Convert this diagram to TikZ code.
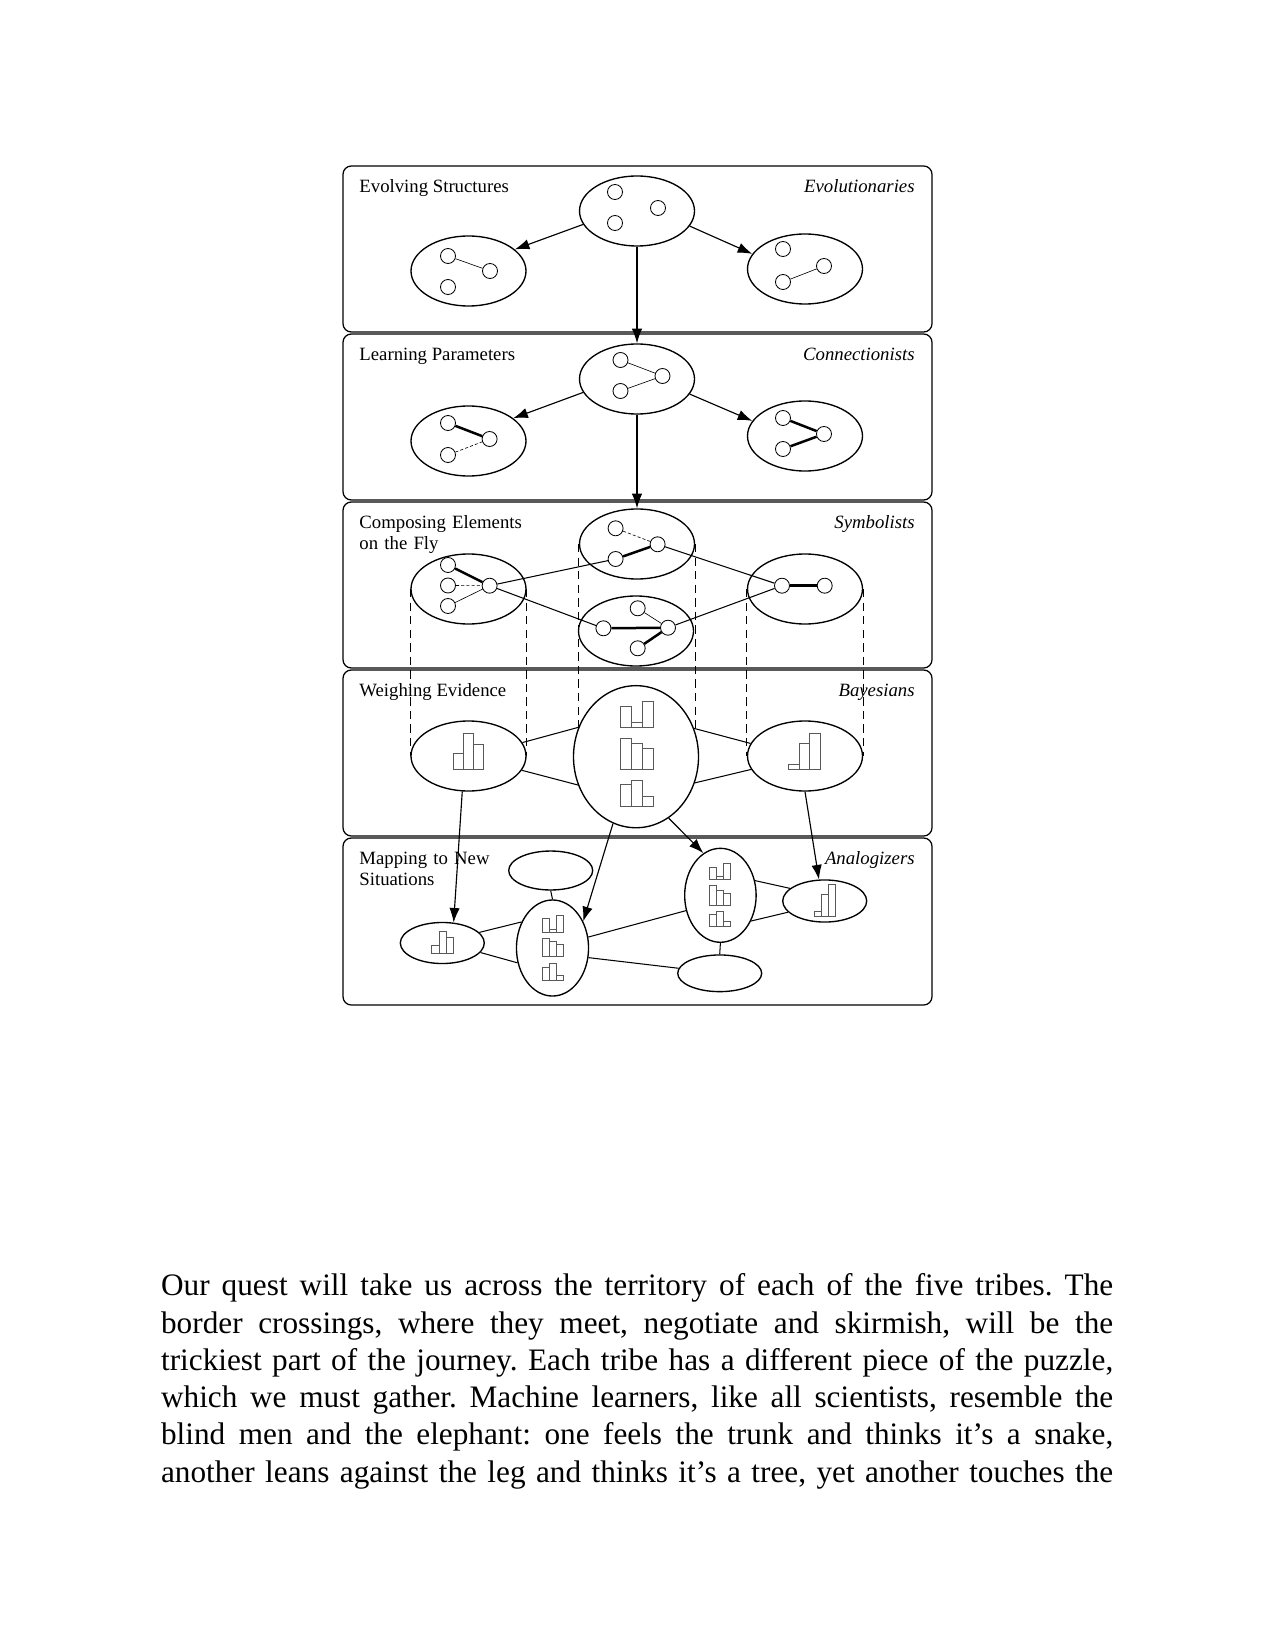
\documentclass[tikz,border=0pt]{standalone}
\usepackage{fontspec}
\setmainfont{Liberation Serif}
\usetikzlibrary{shapes.geometric,arrows.meta,calc}
\newcommand{\histo}[6]{%
  \draw[bar] (#1,#2) rectangle ++(#3,-#4);
  \draw[bar] ({#1+#3},#2) rectangle ++(#3,-#5);
  \draw[bar] ({#1+2*#3},#2) rectangle ++(#3,-#6);}
\newcommand{\fullline}[1]{\makebox[457pt][s]{#1}}
\begin{document}
\begin{tikzpicture}[x=0.48pt,y=-0.48pt,
  band/.style={draw, line width=0.6pt, rounded corners=4pt},
  oval/.style={draw, ellipse, line width=0.65pt, inner sep=0pt, minimum width=55.2pt, minimum height=33.6pt},
  dot/.style={draw, circle, line width=0.4pt, inner sep=0pt, minimum size=7.2pt},
  arr/.style={-{Latex[length=7pt,width=5pt]}, line width=0.55pt},
  link/.style={line width=0.5pt},
  strong/.style={line width=1.2pt},
  weak/.style={line width=0.3pt},
  dashy/.style={line width=0.3pt, dash pattern=on 1.5pt off 1pt},
  tangent/.style={line width=0.4pt, dash pattern=on 4pt off 2.5pt},
  bar/.style={line width=0.35pt, draw=black!65},
  lab/.style={font=\fontsize{9}{10.1}\selectfont, inner sep=0pt},
  tribe/.style={font=\fontsize{9}{10.1}\selectfont\itshape, inner sep=0pt, anchor=base east}]
\fill[white] (0,0) rectangle (1275,1650);
\useasboundingbox (0,0) rectangle (1275,1650);

% bands
\draw[band] (343,166) rectangle (932,332);
\draw[band] (343,334) rectangle (932,500);
\draw[band] (343,502) rectangle (932,668);
\draw[band] (343,670) rectangle (932,836);
\draw[band] (343,838) rectangle (932,1005);

% labels
\node[lab, anchor=base west] (t1) at (359,192.3) {Evolving Structures};
\node[tribe] (n1) at (915,192.3) {Evolutionaries};
\node[lab, anchor=base west] (t2) at (359,360.3) {Learning Parameters};
\node[tribe] (n2) at (915,360.3) {Connectionists};
\node[lab, anchor=base west, text width=120pt, align=left] (t3) at (359,528.3) {Composing Elements\\on the Fly};
\node[tribe] (n3) at (915,528.3) {Symbolists};
\node[lab, anchor=base west] (t4) at (359,696.3) {Weighing Evidence};
\node[tribe] (n4) at (915,696.3) {Bayesians};
\node[lab, anchor=base west, text width=120pt, align=left] (t5) at (359,864.3) {Mapping to New\\Situations};
\node[tribe] (n5) at (915,864.3) {Analogizers};

% ---- band 1
\node[oval] (e1) at (637,211) {};
\node[oval] (l1) at (468.5,271) {};
\node[oval] (r1) at (805,269) {};
\node[dot] (e1a) at (615,192) {};
\node[dot] (e1b) at (658,208) {};
\node[dot] (e1c) at (615,223) {};
\node[dot] (l1a) at (448,256) {};
\node[dot] (l1b) at (490,271) {};
\node[dot] (l1c) at (448,287) {};
\node[dot] (r1a) at (783,249) {};
\node[dot] (r1b) at (824,266) {};
\node[dot] (r1c) at (783,282) {};
\draw[weak] (l1a) -- (l1b);
\draw[weak] (r1c) -- (r1b);
\draw[arr] (e1.194) -- (l1.25);
\draw[arr] (e1.-16) -- (r1.164);

% ---- band 2
\node[oval] (e2) at (637,379) {};
\node[oval] (l2) at (468.5,441) {};
\node[oval] (r2) at (805,436) {};
\node[dot] (e2a) at (620.5,360) {};
\node[dot] (e2b) at (662.5,376) {};
\node[dot] (e2c) at (620.5,391) {};
\node[dot] (l2a) at (448,423) {};
\node[dot] (l2b) at (489.6,439) {};
\node[dot] (l2c) at (448,455) {};
\node[dot] (r2a) at (783,418) {};
\node[dot] (r2b) at (824,434) {};
\node[dot] (r2c) at (783,449) {};
\draw[weak] (e2a) -- (e2b);
\draw[weak] (e2c) -- (e2b);
\draw[strong] (l2a) -- (l2b);
\draw[dashy] (l2c) -- (l2b);
\draw[strong] (r2a) -- (r2b);
\draw[strong] (r2c) -- (r2b);
\draw[arr] (e1.south) -- (e2.north);
\draw[arr] (e2.194) -- (l2.27);
\draw[arr] (e2.-16) -- (r2.164);

% ---- band 3
\node[oval] (e3) at (637,544) {};
\node[oval] (f3) at (636,631) {};
\node[oval] (l3) at (468.5,589) {};
\node[oval] (r3) at (805,589) {};
\node[dot] (e3a) at (615.6,528.3) {};
\node[dot] (e3b) at (657.6,544.3) {};
\node[dot] (e3c) at (615.6,559) {};
\node[dot] (f3a) at (637.7,608.3) {};
\node[dot] (f3b) at (668,627.7) {};
\node[dot] (f3c) at (603.4,628.3) {};
\node[dot] (f3d) at (637.7,648.3) {};
\node[dot] (l3a) at (448,565) {};
\node[dot] (l3b) at (448,585.5) {};
\node[dot] (l3c) at (448,606) {};
\node[dot] (l3h) at (489.6,585.7) {};
\node[dot] (r3a) at (782,585.7) {};
\node[dot] (r3b) at (824.7,585.7) {};
\draw[dashy] (e3a) -- (e3b);
\draw[strong] (e3c) -- (e3b);
\draw[weak] (f3a) -- (f3b);
\draw[strong] (f3c) -- (f3b);
\draw[strong] (f3d) -- (f3b);
\draw[strong] (l3a) -- (l3h);
\draw[dashy] (l3b) -- (l3h);
\draw[weak] (l3c) -- (l3h);
\draw[strong] (r3a) -- (r3b);
\draw[link] (l3h) -- (e3c);
\draw[link] (l3h) -- (f3c);
\draw[link] (e3b) -- (r3a);
\draw[link] (f3b) -- (r3a);
\draw[arr] (e2.south) -- (e3.north);

% ---- band 4
\node[oval] (l4) at (468.5,756) {};
\node[oval, minimum width=60pt, minimum height=68.2pt] (b4) at (636,756.7) {};
\node[oval] (r4) at (805,756) {};
\draw[link] (l4.14) -- (b4.153);
\draw[link] (l4.-15) -- (b4.206);
\draw[link] (b4.26) -- (r4.167);
\draw[link] (b4.-24) -- (r4.194);
\histo{453.4}{769}{10}{15.7}{35.7}{25}
\histo{620.5}{727.3}{11}{20.7}{5}{26.3}
\histo{620.5}{769.3}{11}{31}{26}{21}
\histo{620.5}{806.7}{11}{22.3}{26.7}{10}
\histo{788.5}{769}{10.5}{4.7}{25.7}{35.7}

% tangent dashed lines
\draw[tangent] (l3.west) -- (l4.west);
\draw[tangent] (l3.east) -- (l4.east);
\draw[tangent] (e3.west) -- (e3.west |- b4.154);
\draw[tangent] (e3.east) -- (e3.east |- b4.26);
\draw[tangent] (r3.west) -- (r4.west);
\draw[tangent] (r3.east) -- (r4.east);

% ---- band 5
\node[oval, minimum width=40.3pt, minimum height=19.7pt] (s5) at (442.3,943) {};
\node[oval, minimum width=34.6pt, minimum height=46.1pt] (c5) at (552.5,948) {};
\node[oval, minimum width=40.3pt, minimum height=18.7pt] (te5) at (550.7,870.5) {};
\node[oval, minimum width=34.3pt, minimum height=45.1pt] (t5) at (720.4,895.3) {};
\node[oval, minimum width=40.3pt, minimum height=17.6pt] (be5) at (719.7,973.3) {};
\node[oval, minimum width=40.3pt, minimum height=20.2pt] (rs5) at (824.7,901) {};
\draw[link] (s5.16) -- (c5.140);
\draw[link] (s5.-14) -- (c5.203);
\draw[link] (te5.south) -- (c5.north);
\draw[link] (c5.17) -- (t5.204);
\draw[link] (c5.-15) -- (be5.173);
\draw[link] (t5.south) -- (be5.north);
\draw[link] (t5.23) -- (rs5.160);
\draw[link] (t5.-40) -- (rs5.197);
\histo{431.6}{953.3}{7.4}{8.3}{21.7}{15.7}
\histo{542.3}{932.7}{7}{14}{3}{17.7}
\histo{542.3}{956.7}{7}{18.3}{15}{12}
\histo{542.3}{980}{7}{13}{16.7}{5}
\histo{709.5}{879.3}{6.8}{12}{3}{16}
\histo{709.5}{905}{6.8}{19.3}{15}{12}
\histo{709.5}{926.7}{6.8}{12}{15.7}{5}
\histo{814.4}{916}{7}{4.3}{21.7}{31.7}

% arrows band 4 -> band 5
\draw[arr] (l4.260) -- (s5.61);
\draw[arr] (b4.251) -- (c5.41);
\draw[arr] (b4.298) -- (t5.112);
\draw[arr] (r4.270) -- (rs5.105);

% paragraph (base anchor = baseline of its last line)
\node[anchor=base west, inner sep=0pt, align=left, font=\fontsize{15}{17.9}\selectfont\frenchspacing] (para) at (160.7,1482.2)
 {\fullline{Our quest will take us across the territory of each of the five tribes. The}\\
  \fullline{border crossings, where they meet, negotiate and skirmish, will be the}\\
  \fullline{trickiest part of the journey. Each tribe has a different piece of the puzzle,}\\
  \fullline{which we must gather. Machine learners, like all scientists, resemble the}\\
  \fullline{blind men and the elephant: one feels the trunk and thinks it’s a snake,}\\
  \fullline{another leans against the leg and thinks it’s a tree, yet another touches the}};
\end{tikzpicture}
\end{document}
